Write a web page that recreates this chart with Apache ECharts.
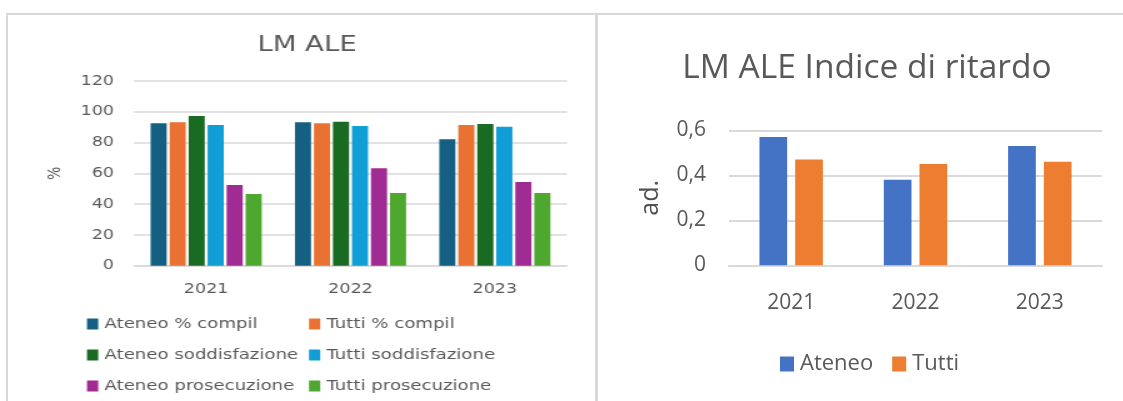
<!DOCTYPE html>
<html>
<head>
<meta charset="utf-8">
<script src="https://cdn.jsdelivr.net/npm/echarts@6/dist/echarts.min.js"></script>
<style>
  html, body { margin: 0; padding: 0; background: #fff; }
  body { width: 1123px; height: 401px; position: relative; overflow: hidden; }
  .frame { position: absolute; border: 2px solid #d9d9d9; box-sizing: border-box; }
  #left { position: absolute; left: 0; top: 0; width: 480px; height: 401px;
          transform: scaleX(1.25); transform-origin: 0 0; }
  #right { position: absolute; left: 600px; top: 0; width: 523px; height: 401px; }
</style>
</head>
<body>
<div class="frame" style="left:6px; top:13px; width:591px; height:420px;"></div>
<div class="frame" style="left:596px; top:13px; width:560px; height:420px;"></div>
<div id="left"></div>
<div id="right"></div>
<script>
// Years shown on both charts
const years = ['2021', '2022', '2023'];

// LM ALE survey indicators (%)
const ateneoCompil = [92.5, 93.2, 82.1];
const tuttiCompil = [93.2, 92.5, 91.4];
const ateneoSoddisfazione = [97.3, 93.6, 92.1];
const tuttiSoddisfazione = [91.4, 90.8, 90.3];
const ateneoProsecuzione = [52.4, 63.3, 54.4];
const tuttiProsecuzione = [46.6, 47.2, 47.2];

// Delay index (absolute values)
const ritardoAteneo = [0.57, 0.38, 0.53];
const ritardoTutti = [0.47, 0.45, 0.46];

// Axis ticks
const pctTicks = { min: 0, max: 120, interval: 20 };
const idxTicks = { min: 0, max: 0.6, interval: 0.2 };

const grey = '#595959';
const gridGrey = '#d9d9d9';

// ---- Left chart: survey percentages ----
const leftFont = 'DejaVu Sans';
const leftSeries = [
  { name: 'Ateneo % compil', data: ateneoCompil, color: '#156082' },
  { name: 'Tutti % compil', data: tuttiCompil, color: '#E97132' },
  { name: 'Ateneo soddisfazione', data: ateneoSoddisfazione, color: '#196B24' },
  { name: 'Tutti soddisfazione', data: tuttiSoddisfazione, color: '#0F9ED5' },
  { name: 'Ateneo prosecuzione', data: ateneoProsecuzione, color: '#A02B93' },
  { name: 'Tutti prosecuzione', data: tuttiProsecuzione, color: '#4EA72E' }
];

const legendCommon = {
  orient: 'vertical',
  top: 316,
  height: 86,
  padding: 0,
  itemWidth: 9,
  itemHeight: 11,
  itemGap: 15,
  icon: 'rect',
  textStyle: { fontFamily: leftFont, fontSize: 14.5, color: grey, lineHeight: 16 }
};

const leftChart = echarts.init(document.getElementById('left'), null, { renderer: 'canvas' });
leftChart.setOption({
  animation: false,
  title: {
    text: 'LM ALE',
    left: 240.6,
    textAlign: 'center',
    top: 29,
    textStyle: { fontFamily: leftFont, fontSize: 22, fontWeight: 'normal', color: grey }
  },
  legend: [
    Object.assign({}, legendCommon, {
      left: 69.6,
      data: leftSeries.filter((s, i) => i % 2 === 0).map(s => s.name)
    }),
    Object.assign({}, legendCommon, {
      left: 247.2,
      data: leftSeries.filter((s, i) => i % 2 === 1).map(s => s.name)
    })
  ],
  grid: { left: 107.2, width: 346.4, top: 81, bottom: 135.3, containLabel: false },
  xAxis: {
    type: 'category',
    data: years,
    axisLine: { lineStyle: { color: gridGrey, width: 1.6 } },
    axisTick: { show: false },
    axisLabel: { fontFamily: leftFont, fontSize: 14, color: grey, margin: 17 }
  },
  yAxis: {
    type: 'value',
    min: pctTicks.min,
    max: pctTicks.max,
    interval: pctTicks.interval,
    name: '%',
    nameLocation: 'middle',
    nameRotate: 90,
    nameGap: 56,
    nameTextStyle: { fontFamily: leftFont, fontSize: 14, color: grey },
    axisLine: { show: false },
    axisTick: { show: false },
    splitLine: { lineStyle: { color: gridGrey, width: 1.6 } },
    axisLabel: { fontFamily: leftFont, fontSize: 14, color: grey, margin: 16 }
  },
  series: leftSeries.map(s => ({
    type: 'bar',
    name: s.name,
    data: s.data,
    itemStyle: { color: s.color },
    barGap: '18%',
    barCategoryGap: '23%'
  }))
});

// ---- Right chart: delay index ----
const rightFont = 'Open Sans';
const rightChart = echarts.init(document.getElementById('right'), null, { renderer: 'canvas' });
rightChart.setOption({
  animation: false,
  title: {
    text: 'LM ALE Indice di ritardo',
    left: 262,
    textAlign: 'center',
    top: 46,
    textStyle: { fontFamily: rightFont, fontSize: 33.5, fontWeight: 'normal', color: grey }
  },
  legend: {
    left: 180,
    top: 353,
    padding: 0,
    itemWidth: 14,
    itemHeight: 15,
    itemGap: 19,
    icon: 'rect',
    data: ['Ateneo', 'Tutti'],
    textStyle: { fontFamily: rightFont, fontSize: 22, color: grey, padding: [0, 0, 0, 1] }
  },
  grid: { left: 129, width: 373, top: 130.3, bottom: 135.7, containLabel: false },
  xAxis: {
    type: 'category',
    data: years,
    axisLine: { lineStyle: { color: gridGrey, width: 2 } },
    axisTick: { show: false },
    axisLabel: { fontFamily: rightFont, fontSize: 21, color: grey, margin: 27 }
  },
  yAxis: {
    type: 'value',
    min: idxTicks.min,
    max: idxTicks.max,
    interval: idxTicks.interval,
    name: 'ad.',
    nameLocation: 'middle',
    nameRotate: 90,
    nameGap: 66,
    nameTextStyle: { fontFamily: rightFont, fontSize: 25, color: '#505050' },
    axisLine: { show: false },
    axisTick: { show: false },
    splitLine: { lineStyle: { color: gridGrey, width: 2 } },
    axisLabel: {
      fontFamily: rightFont, fontSize: 21, color: grey, margin: 23,
      formatter: v => String(Math.round(v * 10) / 10).replace('.', ',')
    }
  },
  series: [
    { type: 'bar', name: 'Ateneo', data: ritardoAteneo, itemStyle: { color: '#4472C4' }, barGap: '29%', barCategoryGap: '49%' },
    { type: 'bar', name: 'Tutti', data: ritardoTutti, itemStyle: { color: '#ED7D31' }, barGap: '29%', barCategoryGap: '49%' }
  ]
});
</script>
</body>
</html>
